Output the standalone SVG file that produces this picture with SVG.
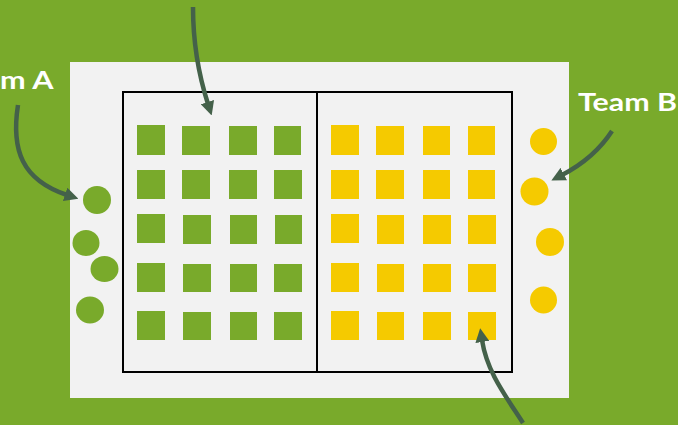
<svg xmlns="http://www.w3.org/2000/svg" width="678" height="425" viewBox="0 0 678 425">
<style>
.g{fill:#79AA2B}
.y{fill:#F5CA00}
.lbl{font-family:Lato,"Open Sans","Liberation Sans",sans-serif;font-weight:700;font-size:25px;fill:#FFFFFF}
.arr{fill:none;stroke:#44614A;stroke-width:4.5;stroke-linecap:butt}
</style>
<defs>
<marker id="ah" viewBox="0 0 14 14" refX="2" refY="7" markerWidth="14" markerHeight="14" markerUnits="userSpaceOnUse" orient="auto">
<path d="M0,0 L14,7 L0,14 z" fill="#44614A"/>
</marker>
</defs>
<rect x="0" y="0" width="678" height="425" fill="#79AA2B"/>
<rect id="field" x="70" y="62" width="499" height="336" fill="#F2F2F2"/>
<g id="court" fill="none" stroke="#000" stroke-width="2">
<rect x="123" y="92" width="389" height="280"/>
<line x1="317" y1="92" x2="317" y2="372"/>
</g>
<g id="green-squares" class="g">
<g id="gs1"><rect x="137" y="125" width="28" height="30"/></g>
<g id="gs2"><rect x="182" y="126" width="28" height="29"/></g>
<g id="gs3"><rect x="229" y="126" width="28" height="29"/></g>
<g id="gs4"><rect x="274" y="126" width="27" height="29"/></g>
<g id="gs5"><rect x="137" y="170" width="28" height="29"/></g>
<g id="gs6"><rect x="182" y="170" width="28" height="29"/></g>
<g id="gs7"><rect x="229" y="170" width="28" height="29"/></g>
<g id="gs8"><rect x="274" y="170" width="28" height="29"/></g>
<g id="gs9"><rect x="137" y="214" width="28" height="29"/></g>
<g id="gs10"><rect x="183" y="215" width="28" height="29"/></g>
<g id="gs11"><rect x="230" y="215" width="27" height="29"/></g>
<g id="gs12"><rect x="275" y="215" width="27" height="29"/></g>
<g id="gs13"><rect x="137" y="263" width="28" height="29"/></g>
<g id="gs14"><rect x="183" y="264" width="28" height="28"/></g>
<g id="gs15"><rect x="230" y="264" width="27" height="28"/></g>
<g id="gs16"><rect x="274" y="264" width="28" height="28"/></g>
<g id="gs17"><rect x="137" y="311" width="28" height="29"/></g>
<g id="gs18"><rect x="183" y="312" width="28" height="28"/></g>
<g id="gs19"><rect x="230" y="312" width="27" height="28"/></g>
<g id="gs20"><rect x="274" y="312" width="28" height="28"/></g>
</g>
<g id="yellow-squares" class="y">
<g id="ys1"><rect x="331" y="125" width="28" height="30"/></g>
<g id="ys2"><rect x="376" y="126" width="28" height="29"/></g>
<g id="ys3"><rect x="423" y="126" width="27" height="29"/></g>
<g id="ys4"><rect x="468" y="126" width="27" height="29"/></g>
<g id="ys5"><rect x="331" y="170" width="28" height="29"/></g>
<g id="ys6"><rect x="376" y="170" width="28" height="29"/></g>
<g id="ys7"><rect x="423" y="170" width="27" height="29"/></g>
<g id="ys8"><rect x="468" y="170" width="27" height="29"/></g>
<g id="ys9"><rect x="331" y="214" width="28" height="29"/></g>
<g id="ys10"><rect x="377" y="215" width="27" height="29"/></g>
<g id="ys11"><rect x="423" y="215" width="28" height="29"/></g>
<g id="ys12"><rect x="468" y="215" width="28" height="29"/></g>
<g id="ys13"><rect x="331" y="263" width="28" height="29"/></g>
<g id="ys14"><rect x="377" y="264" width="27" height="28"/></g>
<g id="ys15"><rect x="423" y="264" width="28" height="28"/></g>
<g id="ys16"><rect x="468" y="264" width="28" height="28"/></g>
<g id="ys17"><rect x="331" y="311" width="28" height="29"/></g>
<g id="ys18"><rect x="377" y="312" width="27" height="28"/></g>
<g id="ys19"><rect x="423" y="312" width="28" height="28"/></g>
<g id="ys20"><rect x="468" y="312" width="28" height="28"/></g>
</g>
<g id="team-a-players" class="g">
<g id="a1"><circle cx="97" cy="200" r="14"/></g>
<g id="a2"><ellipse cx="86" cy="243" rx="13.5" ry="13"/></g>
<g id="a3"><ellipse cx="104.5" cy="269" rx="14" ry="13"/></g>
<g id="a4"><ellipse cx="90" cy="310" rx="14" ry="13.5"/></g>
</g>
<g id="team-b-players" class="y">
<g id="b1"><circle cx="543.5" cy="141.5" r="13.5"/></g>
<g id="b2"><circle cx="534.5" cy="191.5" r="14"/></g>
<g id="b3"><circle cx="550" cy="242" r="14"/></g>
<g id="b4"><circle cx="543.5" cy="300" r="13.5"/></g>
</g>
<g id="label-team-a"><text class="lbl" x="53.5" y="89" text-anchor="end" textLength="100" lengthAdjust="spacingAndGlyphs">Team A</text></g>
<g id="label-team-b"><text class="lbl" x="578" y="111" textLength="99" lengthAdjust="spacingAndGlyphs">Team B</text></g>
<g id="connectors" class="arr" marker-end="url(#ah)">
<path d="M193,7 C193,45 199,76 208,104"/>
<path d="M18,105 C11,150 22,180 67,195"/>
<path d="M612,131 C601,148 585,163 562,175"/>
<path d="M523,423 C505,395 487,372 482,340"/>
</g>
</svg>
